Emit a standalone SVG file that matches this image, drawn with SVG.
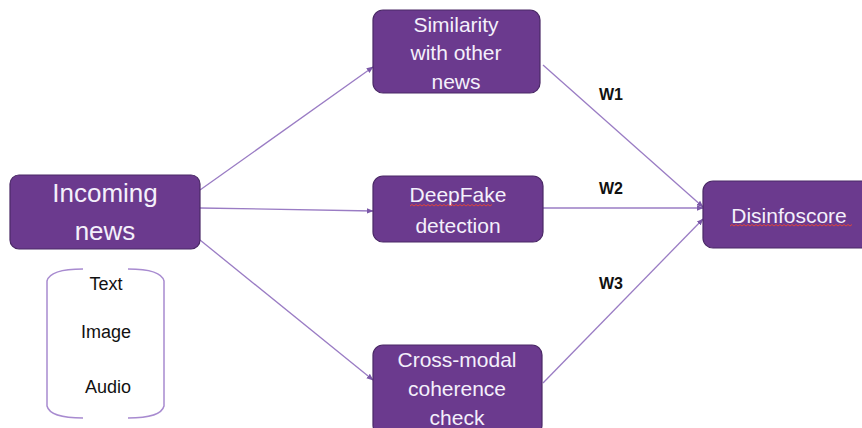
<svg xmlns="http://www.w3.org/2000/svg" width="862" height="428" viewBox="0 0 862 428">
<style>
.box{fill:#6b3a8e;stroke:#4a2866;stroke-width:1.2}
.bt{font-family:"Liberation Sans",Arial,sans-serif;font-size:21px;fill:#f4f0fb;text-anchor:middle;dominant-baseline:central}
.lt{font-family:"Liberation Sans",Arial,sans-serif;font-size:18px;fill:#111;text-anchor:middle;dominant-baseline:central}
.wt{font-family:"Liberation Sans",Arial,sans-serif;font-size:16px;font-weight:bold;fill:#111;text-anchor:middle;dominant-baseline:central}
.con{stroke:#9a7cc4;stroke-width:1.3;fill:none;marker-end:url(#ah)}
.br{stroke:#a88bd0;stroke-width:1.5;fill:none}
.sq{stroke:#e0453a;stroke-width:1;fill:none}
</style>
<defs>
<marker id="ah" viewBox="0 0 10 10" refX="9" refY="5" markerWidth="7" markerHeight="7" orient="auto" markerUnits="userSpaceOnUse">
<path d="M0,1 L10,5 L0,9 z" fill="#7b58a8"/>
</marker>
</defs>
<rect width="862" height="428" fill="#ffffff"/>
<g id="connectors">
<line class="con" x1="200" y1="190" x2="373" y2="67"/>
<line class="con" x1="200" y1="208" x2="373" y2="211"/>
<line class="con" x1="200" y1="240" x2="373" y2="380"/>
<line class="con" x1="543" y1="65" x2="703" y2="207"/>
<line class="con" x1="543" y1="208" x2="703" y2="208"/>
<line class="con" x1="543" y1="383" x2="703" y2="219"/>
</g>
<g id="incoming">
<rect class="box" x="10" y="175" width="190" height="74" rx="9"/>
<text class="bt" x="105" y="193" style="font-size:26px">Incoming</text>
<text class="bt" x="105" y="231" style="font-size:26px">news</text>
</g>
<g id="modalities">
<path class="br" d="M83,269 Q50,269 47,281 L47,406 Q50,418 83,418"/>
<path class="br" d="M128,269 Q161,269 164,281 L164,406 Q161,418 128,418"/>
<text class="lt" x="106" y="284">Text</text>
<text class="lt" x="106" y="332">Image</text>
<text class="lt" x="108" y="387">Audio</text>
</g>
<g id="similarity">
<rect class="box" x="373" y="10" width="167" height="83" rx="10"/>
<text class="bt" x="456" y="24">Similarity</text>
<text class="bt" x="456" y="52">with other</text>
<text class="bt" x="456" y="81">news</text>
</g>
<g id="deepfake">
<rect class="box" x="373" y="176" width="170" height="66" rx="10"/>
<text class="bt" x="458" y="194">DeepFake</text>
<path class="sq" d="M410,206 l2,-1.5 l2,1.5 l2,-1.5 l2,1.5 l2,-1.5 l2,1.5 l2,-1.5 l2,1.5 l2,-1.5 l2,1.5 l2,-1.5 l2,1.5 l2,-1.5 l2,1.5 l2,-1.5 l2,1.5 l2,-1.5 l2,1.5 l2,-1.5 l2,1.5 l2,-1.5 l2,1.5 l2,-1.5 l2,1.5 l2,-1.5 l2,1.5 l2,-1.5 l2,1.5 l2,-1.5 l2,1.5 l2,-1.5 l2,1.5 l2,-1.5 l2,1.5 l2,-1.5 l2,1.5 l2,-1.5 l2,1.5 l2,-1.5 l2,1.5 l2,-1.5"/>
<text class="bt" x="458" y="225">detection</text>
</g>
<g id="crossmodal">
<rect class="box" x="373" y="345" width="169" height="90" rx="10"/>
<text class="bt" x="457" y="359">Cross-modal</text>
<text class="bt" x="457" y="388">coherence</text>
<text class="bt" x="457" y="417">check</text>
</g>
<g id="disinfoscore">
<rect class="box" x="703" y="181" width="170" height="67" rx="10"/>
<text class="bt" x="789" y="215">Disinfoscore</text>
<path class="sq" d="M730,226 l2,-1.5 l2,1.5 l2,-1.5 l2,1.5 l2,-1.5 l2,1.5 l2,-1.5 l2,1.5 l2,-1.5 l2,1.5 l2,-1.5 l2,1.5 l2,-1.5 l2,1.5 l2,-1.5 l2,1.5 l2,-1.5 l2,1.5 l2,-1.5 l2,1.5 l2,-1.5 l2,1.5 l2,-1.5 l2,1.5 l2,-1.5 l2,1.5 l2,-1.5 l2,1.5 l2,-1.5 l2,1.5 l2,-1.5 l2,1.5 l2,-1.5 l2,1.5 l2,-1.5 l2,1.5 l2,-1.5 l2,1.5 l2,-1.5 l2,1.5 l2,-1.5 l2,1.5 l2,-1.5 l2,1.5 l2,-1.5 l2,1.5 l2,-1.5 l2,1.5 l2,-1.5 l2,1.5 l2,-1.5 l2,1.5 l2,-1.5 l2,1.5 l2,-1.5 l2,1.5 l2,-1.5 l2,1.5 l2,-1.5 l2,1.5 l2,-1.5"/>
</g>
<g id="weights">
<text class="wt" x="611" y="94">W1</text>
<text class="wt" x="611" y="188">W2</text>
<text class="wt" x="611" y="283">W3</text>
</g>
</svg>
